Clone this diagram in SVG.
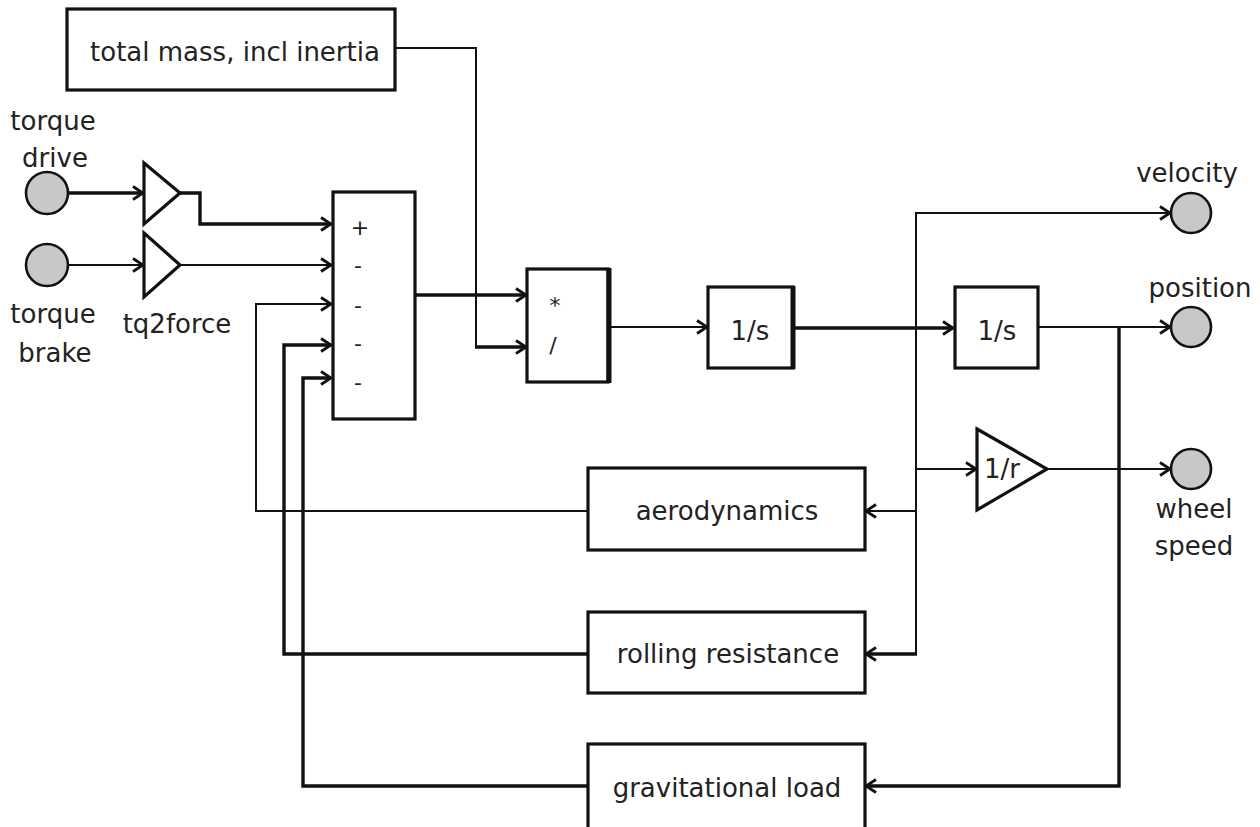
<svg xmlns="http://www.w3.org/2000/svg" width="1260" height="827" viewBox="0 0 1260 827">
<defs>
<marker id="arr" viewBox="0 0 12 16" refX="11" refY="8" markerWidth="12" markerHeight="16" markerUnits="userSpaceOnUse" orient="auto">
<path d="M1,1.5 L11,8 L1,14.5" fill="none" stroke="#111" stroke-width="2.8"/>
</marker>
</defs>
<style>
.blk{fill:#fff;stroke:#111;stroke-width:3.2}
.port{fill:#c8c8c8;stroke:#111;stroke-width:2.6}
.t{font-family:"DejaVu Sans",sans-serif;font-size:26px;fill:#222;text-anchor:middle}
.sg{font-family:"DejaVu Sans",sans-serif;font-size:22px;fill:#222;text-anchor:middle}
.c{fill:none;stroke:#111;stroke-width:2;stroke-linejoin:miter}
.k{fill:none;stroke:#111;stroke-width:3.4;stroke-linejoin:miter}
.a{marker-end:url(#arr)}
</style>
<rect width="1260" height="827" fill="#fff"/>
<g id="connectors">
<path class="k a" d="M68,193 H143"/>
<path class="c a" d="M68,265 H143"/>
<path class="k a" d="M180,193 H200 V224 H331"/>
<path class="c a" d="M180,265 H331"/>
<path class="c a" d="M587,511 H256 V304 H331"/>
<path class="k a" d="M587,654 H284 V345 H331"/>
<path class="k a" d="M587,786 H303 V378 H331"/>
<path class="c" d="M395,48 H476 V347"/>
<path class="k a" d="M475,347 H526"/>
<path class="k a" d="M415,295 H526"/>
<path class="c a" d="M610,327 H707"/>
<path class="k a" d="M794,328 H953"/>
<path class="c a" d="M916,655 V213 H1170"/>
<path class="c a" d="M916,511 H866"/>
<path class="k a" d="M917,654 H866"/>
<path class="c a" d="M916,469 H976"/>
<path class="c a" d="M1038,327 H1170"/>
<path class="k a" d="M1119,327 V786 H866"/>
<path class="c a" d="M1047,469 H1170"/>
</g>
<g id="mass">
<rect class="blk" x="67" y="9" width="328" height="81"/>
<text class="t" x="235" y="61">total mass, incl inertia</text>
</g>
<g id="torque-drive">
<circle class="port" cx="47" cy="193" r="21"/>
<text class="t" x="53" y="130">torque</text>
<text class="t" x="55" y="167">drive</text>
</g>
<g id="torque-brake">
<circle class="port" cx="47" cy="265" r="21"/>
<text class="t" x="53" y="323">torque</text>
<text class="t" x="55" y="362">brake</text>
</g>
<g id="gain-drive">
<polygon class="blk" points="144,163 180,193 144,224"/>
</g>
<g id="gain-brake">
<polygon class="blk" points="144,233 180,265 144,297"/>
<text class="t" x="177" y="333">tq2force</text>
</g>
<g id="sum">
<rect class="blk" x="333" y="192" width="82" height="227"/>
<text class="sg" x="360" y="235">+</text>
<text class="sg" x="358" y="273">-</text>
<text class="sg" x="358" y="313">-</text>
<text class="sg" x="358" y="351">-</text>
<text class="sg" x="358" y="390">-</text>
</g>
<g id="muldiv">
<rect class="blk" x="527" y="269" width="81" height="113"/>
<line x1="609" y1="268" x2="609" y2="383" stroke="#111" stroke-width="5"/>
<text class="sg" x="555" y="313" font-size="20">*</text>
<text class="sg" x="553" y="353">/</text>
</g>
<g id="int1">
<rect class="blk" x="708" y="287" width="85" height="81"/>
<line x1="793" y1="286" x2="793" y2="369" stroke="#111" stroke-width="5"/>
<text class="t" x="750" y="340">1/s</text>
</g>
<g id="int2">
<rect class="blk" x="955" y="287" width="83" height="81"/>
<text class="t" x="997" y="340">1/s</text>
</g>
<g id="gain-r">
<polygon class="blk" points="977,429 1047,469 977,510"/>
<text class="t" x="1002" y="478" font-size="25">1/r</text>
</g>
<g id="velocity">
<circle class="port" cx="1191" cy="213" r="20"/>
<text class="t" x="1187" y="182">velocity</text>
</g>
<g id="position">
<circle class="port" cx="1191" cy="327" r="20"/>
<text class="t" x="1200" y="297">position</text>
</g>
<g id="wheel-speed">
<circle class="port" cx="1191" cy="469" r="20"/>
<text class="t" x="1194" y="518">wheel</text>
<text class="t" x="1194" y="555">speed</text>
</g>
<g id="aero">
<rect class="blk" x="588" y="468" width="277" height="82"/>
<text class="t" x="727" y="520">aerodynamics</text>
</g>
<g id="rolling">
<rect class="blk" x="588" y="612" width="277" height="81"/>
<text class="t" x="728" y="663">rolling resistance</text>
</g>
<g id="grav">
<rect class="blk" x="588" y="744" width="277" height="86"/>
<text class="t" x="727" y="797">gravitational load</text>
</g>
</svg>
